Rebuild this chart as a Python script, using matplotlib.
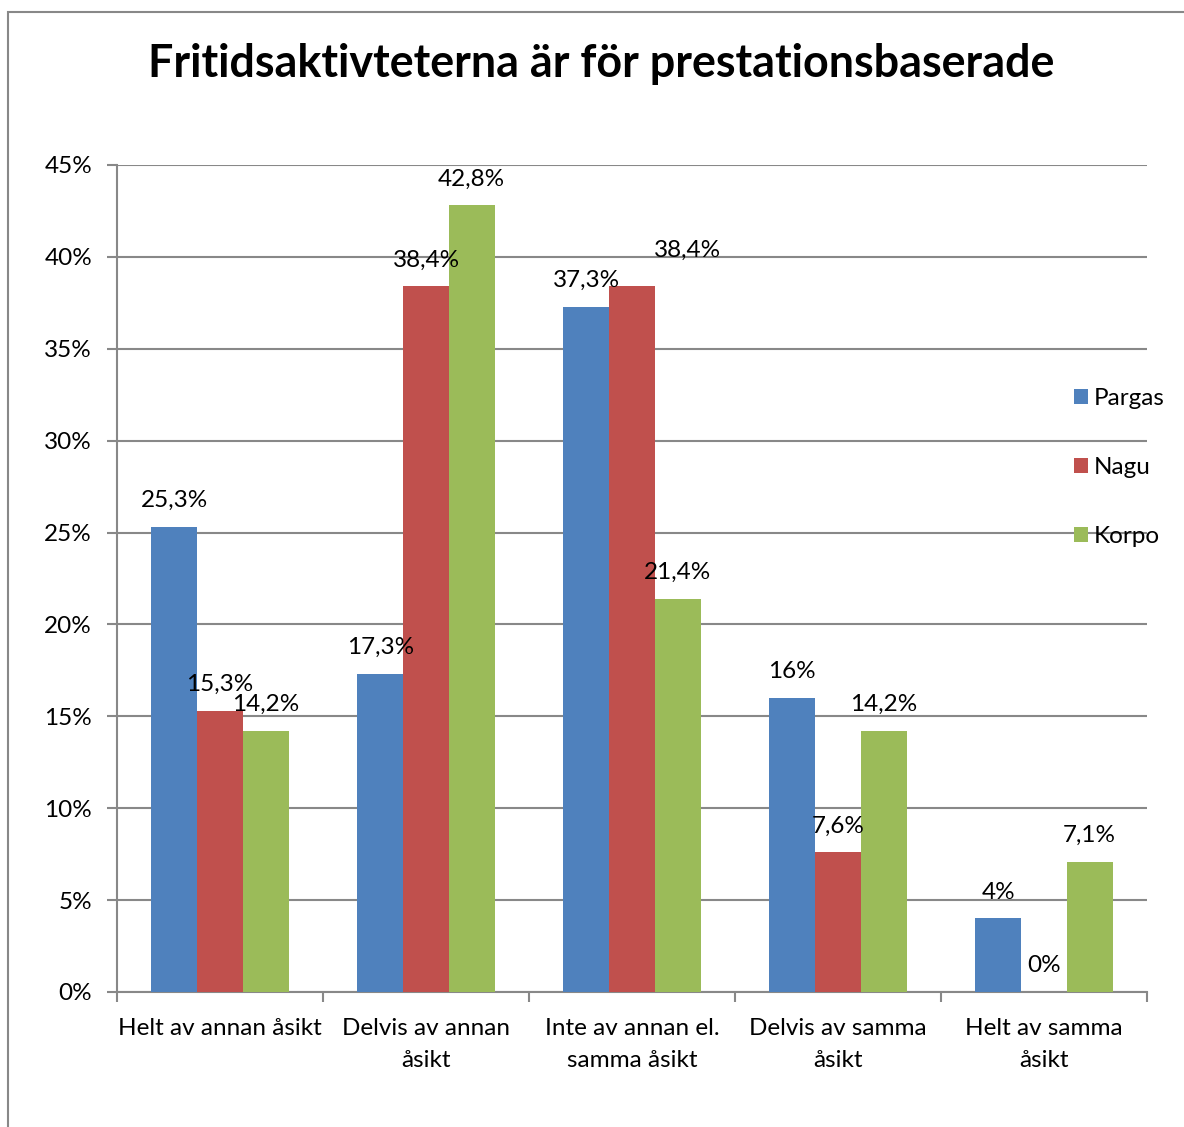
import matplotlib.pyplot as plt
import matplotlib.patches as mpatches
import numpy as np

plt.rcParams['font.family'] = ['Lato', 'DejaVu Sans']

categories = ["Helt av annan åsikt", "Delvis av annan\nåsikt", "Inte av annan el.\nsamma åsikt",
              "Delvis av samma\nåsikt", "Helt av samma\nåsikt"]
series = ["Pargas", "Nagu", "Korpo"]
pargas = [25.3, 17.3, 37.3, 16.0, 4.0]
nagu = [15.3, 38.4, 38.4, 7.6, 0.0]
korpo = [14.2, 42.8, 21.4, 14.2, 7.1]
pargas_lbl = ["25,3%", "17,3%", "37,3%", "16%", "4%"]
nagu_lbl = ["15,3%", "38,4%", "38,4%", "7,6%", "0%"]
korpo_lbl = ["14,2%", "42,8%", "21,4%", "14,2%", "7,1%"]
colors = ["#4F81BD", "#C0504D", "#9BBB59"]

fs = 17.5
fig = plt.figure(figsize=(11.84, 11.27), dpi=100)
ax = fig.add_axes([117 / 1184, 1 - 992 / 1127, 1030 / 1184, 827 / 1127])

x = np.arange(len(categories))
w = 0.222
grid_c = "#888888"

for i, (vals, lbls) in enumerate(zip([pargas, nagu, korpo], [pargas_lbl, nagu_lbl, korpo_lbl])):
    pos = x + (i - 1) * w
    ax.bar(pos, vals, width=w, color=colors[i], label=series[i], zorder=3)
    for j, (p, v, t) in enumerate(zip(pos, vals, lbls)):
        dx, dy = 0, 19
        if i == 1 and j == 2:
            dx, dy = 40, 26
        ax.annotate(t, (p, v), xytext=(dx, dy), textcoords="offset points",
                    ha="center", va="center", fontsize=fs, zorder=5)

ax.set_xlim(-0.5, 4.5)
ax.set_ylim(0, 45)
ax.set_yticks(np.arange(0, 46, 5))
ax.set_yticklabels([f"{v}%" for v in range(0, 46, 5)], fontsize=fs)
ax.yaxis.grid(True, color=grid_c, linewidth=1.5, zorder=0)
ax.tick_params(axis="y", length=7, width=1.5, color=grid_c, pad=11)

ax.set_xticks(np.arange(-0.5, 5, 1))
ax.set_xticklabels([])
ax.tick_params(axis="x", length=7, width=1.5, color=grid_c)
ax.set_xticks(x, minor=True)
ax.set_xticklabels(categories, minor=True, fontsize=fs, linespacing=1.62)
ax.tick_params(axis="x", which="minor", length=0, pad=19)
for lab in ax.get_xticklabels(minor=True):
    lab.set_va("top")

for s in ["top", "right"]:
    ax.spines[s].set_visible(False)
for s in ["left", "bottom"]:
    ax.spines[s].set_color(grid_c)
    ax.spines[s].set_linewidth(1.5)

ax.legend(loc="upper left", bbox_to_anchor=(1052 / 1184, 1 - 366 / 1127),
          bbox_transform=fig.transFigure, frameon=False, fontsize=fs,
          handlelength=0.58, handleheight=0.58, handletextpad=0.25, labelspacing=1.97)

fig.text(601 / 1184, 1 - 64 / 1127, "Fritidsaktivteterna är för prestationsbaserade",
         ha="center", va="center", fontsize=32.3, fontweight="bold")

fig.patches.append(mpatches.Rectangle((8 / 1184, -0.05), 1.2, 1 - 12 / 1127 + 0.05,
                                      transform=fig.transFigure, fill=False,
                                      edgecolor=grid_c, linewidth=1.5))

fig.savefig("out.png", dpi=100)
